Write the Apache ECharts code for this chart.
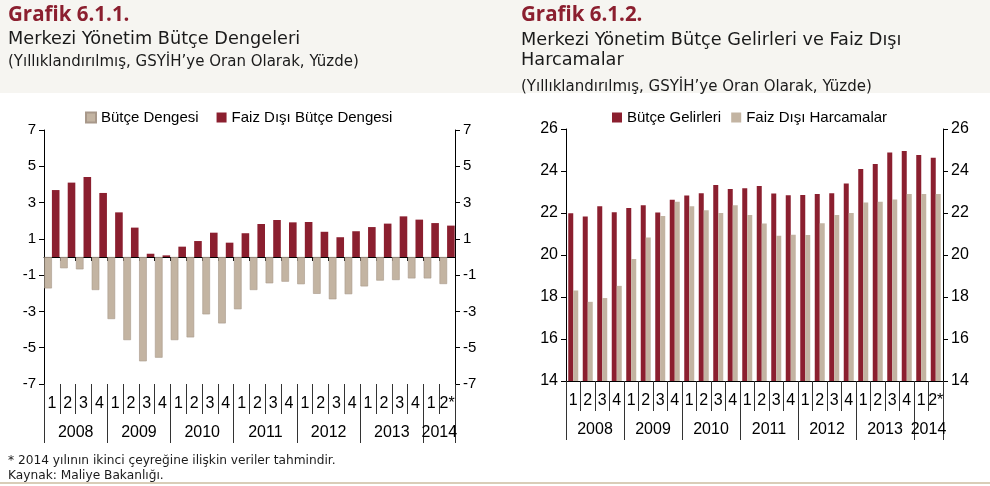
<!DOCTYPE html>
<html>
<head>
<meta charset="utf-8">
<script src="https://cdn.jsdelivr.net/npm/echarts@6/dist/echarts.min.js"></script>
<style>
  html, body { margin: 0; padding: 0; }
  body { background: linear-gradient(#f6f5f1 0, #f6f5f1 93px, #fff 93px); }
  #chart { position: relative; width: 990px; height: 486px; }
  .rule { position: absolute; left: 0; top: 482px; width: 990px; height: 2px; background: #d9cdb8; }
</style>
</head>
<body>
<div id="chart"></div>
<div class="rule"></div>
<script>
// quarters 2008Q1 .. 2014Q2
const quarters = ['1', '2', '3', '4', '1', '2', '3', '4', '1', '2', '3', '4', '1', '2', '3', '4',
  '1', '2', '3', '4', '1', '2', '3', '4', '1', '2*'];
const years = ['2008', '2008', '2008', '2008', '2009', '2009', '2009', '2009', '2010', '2010', '2010', '2010',
  '2011', '2011', '2011', '2011', '2012', '2012', '2012', '2012', '2013', '2013', '2013', '2013', '2014', '2014'];

// Grafik 6.1.1
const butceDengesi = [-1.73, -0.62, -0.68, -1.82, -3.42, -4.58, -5.75, -5.55, -4.58, -4.43, -3.16, -3.66,
  -2.88, -1.82, -1.45, -1.36, -1.5, -2.03, -2.33, -2.05, -1.62, -1.3, -1.27, -1.18, -1.18, -1.49];
const faizDisiDenge = [3.69, 4.1, 4.41, 3.53, 2.46, 1.62, 0.18, 0.09, 0.57, 0.88, 1.34, 0.79,
  1.31, 1.82, 2.04, 1.91, 1.93, 1.39, 1.09, 1.42, 1.65, 1.84, 2.24, 2.06, 1.87, 1.73];
const leftTicks = [-7, -5, -3, -1, 1, 3, 5, 7];

// Grafik 6.1.2
const butceGelirleri = [21.99, 21.83, 22.32, 22.04, 22.24, 22.37, 22.02, 22.63, 22.83, 22.94, 23.33, 23.14,
  23.18, 23.29, 22.93, 22.85, 22.86, 22.9, 22.94, 23.4, 24.09, 24.33, 24.88, 24.95, 24.76, 24.63];
const faizDisiHarcama = [18.31, 17.77, 17.95, 18.53, 19.81, 20.83, 21.86, 22.54, 22.32, 22.13, 22.0, 22.37,
  21.9, 21.5, 20.92, 20.97, 20.95, 21.51, 21.9, 22.0, 22.5, 22.53, 22.64, 22.91, 22.91, 22.91];
const rightTicks = [14, 16, 18, 20, 22, 24, 26];

const RED = '#8b1f2f';
const BEIGE = '#c3b4a2';
const AXIS_FONT = '"Liberation Sans", Arial, sans-serif';
const TITLE_FONT = '"DejaVu Sans", "Open Sans", sans-serif';

// first index of each year, and the index whose right edge is the middle of the year
const isYearStart = (i) => i === 0 || years[i] !== years[i - 1];
const yearLabelIdx = {};
years.forEach((y, i) => {
  if (isYearStart(i)) {
    let n = 0;
    while (years[i + n] === y) n++;
    yearLabelIdx[i + n / 2 - 1] = true;
  }
});

const axisLineStyle = { color: '#000', width: 1 };

function quarterAxis(gridIndex, showLine) {
  return {
    type: 'category',
    gridIndex: gridIndex,
    data: quarters,
    position: 'bottom',
    axisLine: { show: showLine, onZero: false, lineStyle: axisLineStyle },
    axisTick: { show: true, interval: 0, length: 30, lineStyle: { color: '#333' } },
    axisLabel: { interval: 0, margin: 12, fontSize: 16, color: '#000', fontFamily: AXIS_FONT },
  };
}

function yearAxis(gridIndex, catW) {
  return {
    type: 'category',
    gridIndex: gridIndex,
    data: years,
    position: 'bottom',
    axisLine: { show: false, onZero: false },
    axisTick: { show: true, interval: (i) => isYearStart(i), length: 59, lineStyle: { color: '#333' } },
    axisLabel: {
      interval: (i) => !!yearLabelIdx[i],
      margin: 41,
      padding: [0, 0, 0, catW],
      fontSize: 16,
      color: '#000',
      fontFamily: AXIS_FONT,
    },
  };
}

function valueAxis(gridIndex, position, min, max, ticks, labelSize) {
  return {
    type: 'value',
    gridIndex: gridIndex,
    position: position,
    min: min,
    max: max,
    splitLine: { show: false },
    axisLine: { show: true, lineStyle: axisLineStyle },
    axisTick: { show: true, length: 5, customValues: ticks, lineStyle: { color: '#000' } },
    axisLabel: { customValues: ticks, margin: 8, fontSize: labelSize, color: '#000', fontFamily: AXIS_FONT },
  };
}

function titleText(text, left, top, size, extra) {
  return {
    text: text,
    left: left,
    top: top,
    padding: 0,
    textStyle: Object.assign({ fontFamily: TITLE_FONT, color: '#1a1a1a', fontWeight: 'normal', fontSize: size }, extra || {}),
  };
}

const chart = echarts.init(document.getElementById('chart'), null, { renderer: 'canvas' });

chart.setOption({
  animation: false,
  backgroundColor: 'transparent',
  title: [
    titleText('Grafik 6.1.1.', 8, 5, 20.5, { fontWeight: 'bold', color: RED, fontFamily: '"Open Sans", sans-serif' }),
    titleText('Merkezi Yönetim Bütçe Dengeleri', 8, 30, 17.7),
    titleText('(Yıllıklandırılmış, GSYİH’ye Oran Olarak, Yüzde)', 8, 55, 15),
    titleText('Grafik 6.1.2.', 521, 5, 20.5, { fontWeight: 'bold', color: RED, fontFamily: '"Open Sans", sans-serif' }),
    titleText('Merkezi Yönetim Bütçe Gelirleri ve Faiz Dışı\nHarcamalar', 521, 30, 17.7, { lineHeight: 20 }),
    titleText('(Yıllıklandırılmış, GSYİH’ye Oran Olarak, Yüzde)', 521, 80, 15),
    titleText('* 2014 yılının ikinci çeyreğine ilişkin veriler tahmindir.', 8, 455, 12.2),
    titleText('Kaynak: Maliye Bakanlığı.', 8, 470, 12.2),
  ],
  legend: [
    {
      data: ['Bütçe Dengesi', 'Faiz Dışı Bütçe Dengesi'],
      left: 85,
      top: 110,
      padding: 0,
      icon: 'rect',
      itemWidth: 10,
      itemHeight: 10,
      itemGap: 18,
      textStyle: { fontSize: 15, color: '#000', fontFamily: AXIS_FONT },
    },
    {
      data: ['Bütçe Gelirleri', 'Faiz Dışı Harcamalar'],
      left: 612,
      top: 110,
      padding: 0,
      icon: 'rect',
      itemWidth: 10,
      itemHeight: 10,
      itemGap: 10,
      textStyle: { fontSize: 15, color: '#000', fontFamily: AXIS_FONT },
    },
  ],
  grid: [
    { left: 44, right: 535, top: 130, bottom: 102 },
    { left: 566, right: 47, top: 129, bottom: 105 },
  ],
  xAxis: [
    {
      type: 'category',
      gridIndex: 0,
      data: quarters,
      axisLine: { show: true, onZero: true, lineStyle: axisLineStyle },
      axisTick: { show: true, interval: 0, length: 4, lineStyle: { color: '#000' } },
      axisLabel: { show: false },
    },
    quarterAxis(0, false),
    yearAxis(0, 16),
    quarterAxis(1, true),
    yearAxis(1, 14.5),
  ],
  yAxis: [
    valueAxis(0, 'left', -7, 7, leftTicks, 15),
    valueAxis(0, 'right', -7, 7, leftTicks, 15),
    valueAxis(1, 'left', 14, 26, rightTicks, 16),
    valueAxis(1, 'right', 14, 26, rightTicks, 16),
  ],
  series: [
    {
      name: 'Bütçe Dengesi',
      type: 'bar',
      xAxisIndex: 0,
      yAxisIndex: 0,
      data: butceDengesi,
      barWidth: 7.6,
      barGap: '0%',
      itemStyle: { color: BEIGE, borderColor: '#a8988a', borderWidth: 0.6 },
    },
    {
      name: 'Faiz Dışı Bütçe Dengesi',
      type: 'bar',
      xAxisIndex: 0,
      yAxisIndex: 0,
      data: faizDisiDenge,
      barWidth: 7.6,
      barGap: '0%',
      itemStyle: { color: RED },
    },
    {
      name: 'Bütçe Gelirleri',
      type: 'bar',
      xAxisIndex: 3,
      yAxisIndex: 2,
      data: butceGelirleri,
      barWidth: 5,
      barGap: '0%',
      itemStyle: { color: RED },
    },
    {
      name: 'Faiz Dışı Harcamalar',
      type: 'bar',
      xAxisIndex: 3,
      yAxisIndex: 2,
      data: faizDisiHarcama,
      barWidth: 5,
      barGap: '0%',
      itemStyle: { color: BEIGE },
    },
  ],
});
</script>
</body>
</html>
